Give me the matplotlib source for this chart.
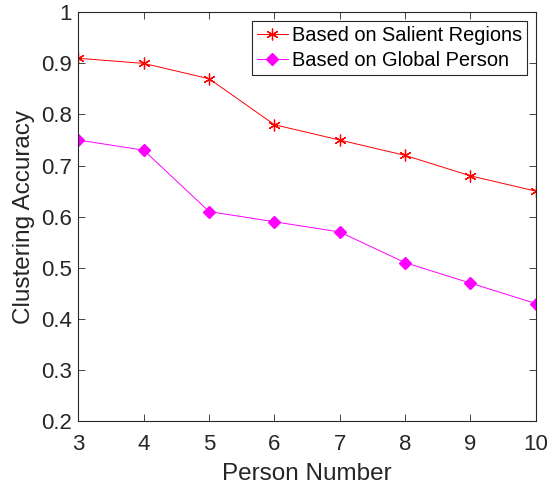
import matplotlib
matplotlib.use('Agg')
import matplotlib.pyplot as plt

person_number = [3, 4, 5, 6, 7, 8, 9, 10]
acc_salient = [0.91, 0.90, 0.87, 0.78, 0.75, 0.72, 0.68, 0.65]
acc_global = [0.75, 0.73, 0.61, 0.59, 0.57, 0.51, 0.47, 0.43]
y_ticks = [0.2, 0.3, 0.4, 0.5, 0.6, 0.7, 0.8, 0.9, 1.0]
y_tick_labels = ['0.2', '0.3', '0.4', '0.5', '0.6', '0.7', '0.8', '0.9', '1']

plt.rcParams['font.family'] = ['Liberation Sans', 'DejaVu Sans']

fig = plt.figure(figsize=(5.59, 4.87), dpi=100)
ax = fig.add_axes([0.1404, 0.1355, 0.8179, 0.8392])

ax.plot(person_number, acc_salient, color='red', linewidth=0.7, marker=(6, 2, 0),
        markersize=8.5, markeredgewidth=0.9, label='Based on Salient Regions')
ax.plot(person_number, acc_global, color='magenta', linewidth=0.7, marker='D',
        markersize=6.5, label='Based on Global Person')

ax.set_xlim(3, 10)
ax.set_ylim(0.2, 1.0)
ax.set_xticks(person_number)
ax.set_yticks(y_ticks)
ax.set_yticklabels(y_tick_labels)
ax.tick_params(direction='in', top=True, right=True, labelsize=16,
               length=5, width=0.6, colors='#262626')
ax.tick_params(axis='x', pad=9)
ax.tick_params(axis='y', pad=5)
for s in ax.spines.values():
    s.set_linewidth(0.8)
    s.set_color('#262626')

ax.set_xlabel('Person Number', fontsize=17.5, color='#262626', labelpad=6)
ax.set_ylabel('Clustering Accuracy', fontsize=17.5, color='#262626', labelpad=4)

leg = ax.legend(loc='upper right', fontsize=14.4, fancybox=False, framealpha=1,
                edgecolor='#262626', borderpad=0.25, handlelength=1.55,
                handletextpad=0.2, labelspacing=0.3, borderaxespad=0.45)
leg.get_frame().set_linewidth(0.8)

fig.savefig('out.png', dpi=100)
